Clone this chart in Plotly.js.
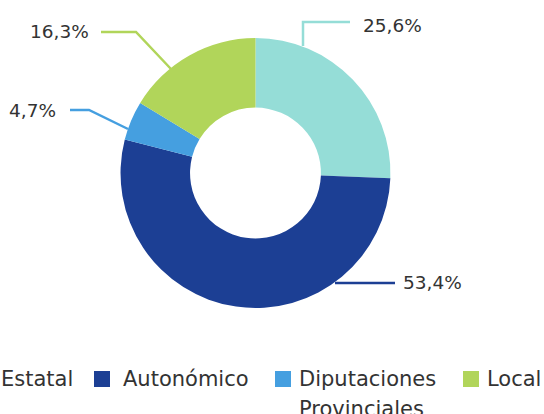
<!DOCTYPE html>
<html>
<head>
<meta charset="utf-8">
<script src="https://cdn.plot.ly/plotly-3.0.1.min.js"></script>
<style>html,body{margin:0;padding:0;background:#fff;}#chart{width:544px;height:414px;}</style>
</head>
<body>
<div id="chart"></div>
<script>
var categories = ['Estatal', 'Autonómico', 'Diputaciones<br>Provinciales', 'Local'];
var values = [25.6, 53.4, 4.7, 16.3];
var valueLabels = ['25,6%', '53,4%', '4,7%', '16,3%'];
var colors = ['#95ddd7', '#1c3f94', '#459fe0', '#b1d55a'];

var FONT = 'DejaVu Sans, sans-serif';
var TXT = '#333333';

var trace = {
  type: 'pie',
  labels: categories,
  values: values,
  hole: 0.485,
  sort: false,
  direction: 'clockwise',
  rotation: 0,
  textinfo: 'none',
  hoverinfo: 'label+percent',
  showlegend: false,
  marker: {colors: colors, line: {width: 0}},
  domain: {x: [0.2215, 0.7178], y: [0.256, 0.908]}
};

function px(x){return x/544;}
function py(y){return 1 - y/414;}
var labelPos = [[361, 25, 'left'], [401, 282, 'left'], [58, 110, 'right'], [91, 31, 'right']];
var leaderLines = [
  [[303,46],[303,22],[350,22]],
  [[335,283],[395,283]],
  [[128,129],[89,110],[70,110]],
  [[171,69],[136,32],[101,32]]
];

var annotations = valueLabels.map(function(t, i){
  return {xref:'paper', yref:'paper', x: px(labelPos[i][0]), y: py(labelPos[i][1]),
    xanchor: labelPos[i][2], yanchor:'middle', text: t, showarrow:false,
    font:{family:FONT, size:18.5, color:TXT}};
});
var shapes = leaderLines.map(function(pts, i){
  var d = pts.map(function(p, j){return (j?'L':'M') + px(p[0]) + ',' + py(p[1]);}).join(' ');
  return {type:'path', xref:'paper', yref:'paper', path:d, line:{color:colors[i], width:2.5}};
});

// custom legend: swatch left edges and text left edges
var legendX = [-28, 94, 275, 463];
var legendTextX = [-1, 121, 297, 485];
var legendY = 379, legendLine = 30, sw = 16;
categories.forEach(function(c, i){
  shapes.push({type:'rect', xref:'paper', yref:'paper',
    x0: px(legendX[i]), x1: px(legendX[i] + sw), y0: py(legendY - sw/2), y1: py(legendY + sw/2),
    fillcolor: colors[i], line:{width:0}});
  c.split('<br>').forEach(function(part, k){
    annotations.push({xref:'paper', yref:'paper', x: px(legendTextX[i]), y: py(legendY + k*legendLine),
      xanchor:'left', yanchor:'middle', text: part, showarrow:false,
      font:{family:FONT, size:21, color:TXT}});
  });
});

var layout = {
  width: 544, height: 414,
  margin: {l:0, r:0, t:0, b:0, autoexpand:false},
  paper_bgcolor: '#ffffff',
  showlegend: false,
  annotations: annotations,
  shapes: shapes
};
Plotly.newPlot('chart', [trace], layout, {displayModeBar:false, staticPlot:true});
</script>
</body>
</html>
